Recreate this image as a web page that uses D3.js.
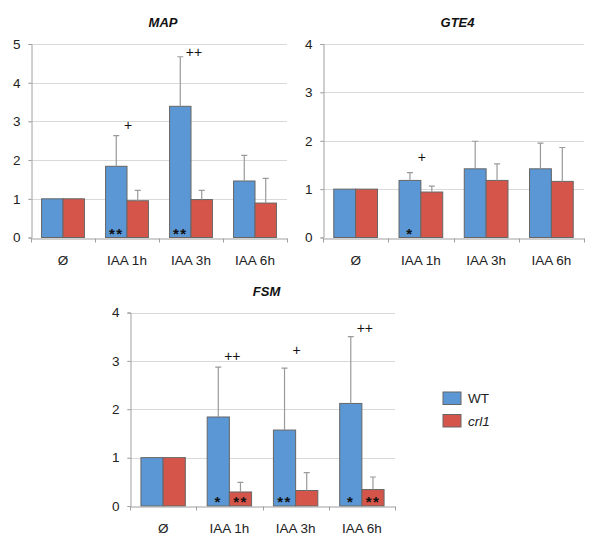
<!DOCTYPE html>
<html><head><meta charset="utf-8">
<script src="https://cdn.jsdelivr.net/npm/d3@7"></script>
<style>body{margin:0;background:#fff}svg{display:block}text{font-family:"Liberation Sans",Arial,Helvetica,sans-serif}</style>
</head><body>
<script>
const categories = ["Ø", "IAA 1h", "IAA 3h", "IAA 6h"];
const seriesNames = ["WT", "crl1"];

// MAP
const mapWT = [1.00, 1.84, 3.39, 1.46];
const mapWTerr = [1.00, 2.63, 4.67, 2.12];
const mapCrl = [1.00, 0.95, 0.98, 0.89];
const mapCrlErr = [1.00, 1.22, 1.22, 1.53];
const mapPlus = ["", "+", "++", ""];
const mapPlusLevel = [0, 2.90, 4.80, 0];
const mapStarsWT = ["", "**", "**", ""];
const mapStarsCrl = ["", "", "", ""];

// GTE4
const gteWT = [1.00, 1.18, 1.42, 1.42];
const gteWTerr = [1.00, 1.34, 1.99, 1.95];
const gteCrl = [1.00, 0.94, 1.18, 1.16];
const gteCrlErr = [1.00, 1.06, 1.52, 1.86];
const gtePlus = ["", "+", "", ""];
const gtePlusLevel = [0, 1.67, 0, 0];
const gteStarsWT = ["", "*", "", ""];
const gteStarsCrl = ["", "", "", ""];

// FSM
const fsmWT = [1.00, 1.84, 1.57, 2.12];
const fsmWTerr = [1.00, 2.87, 2.85, 3.50];
const fsmCrl = [1.00, 0.29, 0.32, 0.34];
const fsmCrlErr = [1.00, 0.49, 0.69, 0.60];
const fsmPlus = ["", "++", "+", "++"];
const fsmPlusLevel = [0, 3.10, 3.23, 3.68];
const fsmStarsWT = ["", "*", "**", "*"];
const fsmStarsCrl = ["", "**", "", "**"];

const yTicksMAP = [0, 1, 2, 3, 4, 5];
const yTicks4 = [0, 1, 2, 3, 4];

const colors = ["#5b97d4", "#d6554b"];

const panels = [
  {title: "MAP", wt: mapWT, wtErr: mapWTerr, crl: mapCrl, crlErr: mapCrlErr, plus: mapPlus, plusLv: mapPlusLevel, sWT: mapStarsWT, sCrl: mapStarsCrl, ticks: yTicksMAP, x0: 31, x1: 287, yTop: 44, yBot: 237.5},
  {title: "GTE4", wt: gteWT, wtErr: gteWTerr, crl: gteCrl, crlErr: gteCrlErr, plus: gtePlus, plusLv: gtePlusLevel, sWT: gteStarsWT, sCrl: gteStarsCrl, ticks: yTicks4, x0: 323, x1: 584, yTop: 44, yBot: 237.5},
  {title: "FSM", wt: fsmWT, wtErr: fsmWTerr, crl: fsmCrl, crlErr: fsmCrlErr, plus: fsmPlus, plusLv: fsmPlusLevel, sWT: fsmStarsWT, sCrl: fsmStarsCrl, ticks: yTicks4, x0: 130, x1: 395, yTop: 312.5, yBot: 506}
];

const svg = d3.select("body").append("svg").attr("width", 600).attr("height", 549);

panels.forEach(p => {
  const g = svg.append("g");
  const ymax = d3.max(p.ticks);
  const x = d3.scaleBand().domain(categories).range([p.x0, p.x1]);
  const bw = x.bandwidth();
  const pad = bw * 0.165;
  const xs = d3.scaleBand().domain(seriesNames).range([pad, bw - pad]);
  const y = d3.scaleLinear().domain([0, ymax]).range([p.yBot, p.yTop]);

  // gridlines
  g.selectAll(".grid").data(p.ticks.filter(t => t > 0)).enter().append("line")
    .attr("x1", p.x0 - 3).attr("x2", p.x1).attr("y1", d => Math.round(y(d)) + 0.5).attr("y2", d => Math.round(y(d)) + 0.5)
    .attr("stroke", "#d9d9d9").attr("stroke-width", 1);

  // y axis
  const ya = d3.axisLeft(y).tickValues(p.ticks).tickSize(3).tickPadding(8).tickFormat(d3.format("d"));
  const yg = g.append("g").attr("transform", `translate(${Math.round(p.x0) + 0.5},0)`).call(ya);
  yg.select(".domain").attr("stroke", "#a0a0a0");
  yg.selectAll(".tick line").attr("stroke", "#a0a0a0");
  yg.selectAll(".tick text").attr("font-size", 13.5).attr("fill", "#222").style("font-family", "'Liberation Sans', Arial, sans-serif");

  // bars
  const rows = categories.map((c, i) => ({c, vals: [
    {s: "WT", v: p.wt[i], e: p.wtErr[i], star: p.sWT[i]},
    {s: "crl1", v: p.crl[i], e: p.crlErr[i], star: p.sCrl[i]}
  ]}));
  const grp = g.selectAll(".grp").data(rows).enter().append("g")
    .attr("transform", d => `translate(${x(d.c)},0)`);
  grp.selectAll("rect").data(d => d.vals).enter().append("rect")
    .attr("x", d => xs(d.s)).attr("width", xs.bandwidth())
    .attr("y", d => y(d.v)).attr("height", d => y(0) - y(d.v))
    .attr("fill", (d, i) => colors[i]).attr("stroke", "#666").attr("stroke-width", 1);
  // error bars
  grp.selectAll(".err").data(d => d.vals.filter(v => v.e > v.v)).enter().append("path")
    .attr("d", d => {
      const cx = xs(d.s) + xs.bandwidth() / 2;
      return `M${cx},${y(d.v)}V${y(d.e)}M${cx - 3},${y(d.e)}H${cx + 3}`;
    })
    .attr("stroke", "#9a9a9a").attr("stroke-width", 1.2).attr("fill", "none");
  // stars
  grp.selectAll(".star").data(d => d.vals.filter(v => v.star)).enter().append("text")
    .attr("x", d => xs(d.s) + xs.bandwidth() / 2).attr("y", y(0) + 1)
    .attr("text-anchor", "middle").attr("font-size", 15).attr("font-weight", "bold").attr("fill", "#111")
    .attr("letter-spacing", 1.5)
    .text(d => d.star);

  // x axis
  const xa = d3.axisBottom(x).tickSize(0).tickPadding(0);
  const xg = g.append("g").attr("transform", `translate(0,${Math.round(p.yBot) + 0.5})`).call(xa);
  xg.select(".domain").attr("stroke", "#a0a0a0");
  xg.selectAll(".tick text").attr("dy", 0).attr("y", 26).attr("font-size", 13.5).attr("fill", "#222")
    .style("font-family", "'Liberation Sans', Arial, sans-serif");
  // category separators
  g.selectAll(".sep").data(categories.concat(["end"])).enter().append("line")
    .attr("x1", (d, i) => i < categories.length ? Math.round(x(d)) + 0.5 : Math.round(p.x1) + 0.5)
    .attr("x2", (d, i) => i < categories.length ? Math.round(x(d)) + 0.5 : Math.round(p.x1) + 0.5)
    .attr("y1", Math.round(p.yBot) + 0.5).attr("y2", Math.round(p.yBot) + 4.5)
    .attr("stroke", "#a0a0a0");

  // plus annotations
  g.selectAll(".plus").data(categories.map((c, i) => ({c, t: p.plus[i], lv: p.plusLv[i]})).filter(d => d.t))
    .enter().append("text")
    .attr("x", d => x(d.c) + bw / 2 + (d.t.length > 1 ? 3 : 1)).attr("y", d => y(d.lv) + 5)
    .attr("text-anchor", "middle").attr("font-size", 14).attr("fill", "#111")
    .text(d => d.t);

  // title
  g.append("text").attr("x", (p.x0 + p.x1) / 2 + 4).attr("y", p.yTop - 17)
    .attr("text-anchor", "middle").attr("font-size", 13).attr("font-weight", "bold").attr("font-style", "italic")
    .attr("fill", "#111")
    .text(p.title);
});

// legend
const leg = svg.append("g").attr("transform", "translate(443,392)");
seriesNames.forEach((s, i) => {
  leg.append("rect").attr("x", 0).attr("y", i * 22.5).attr("width", 18).attr("height", 12.5)
    .attr("fill", colors[i]).attr("stroke", "#666");
  leg.append("text").attr("x", 25).attr("y", i * 22.5 + 11).attr("font-size", 13.5).attr("fill", "#222")
    .attr("font-style", i === 1 ? "italic" : "normal").text(s);
});
</script>
</body></html>
